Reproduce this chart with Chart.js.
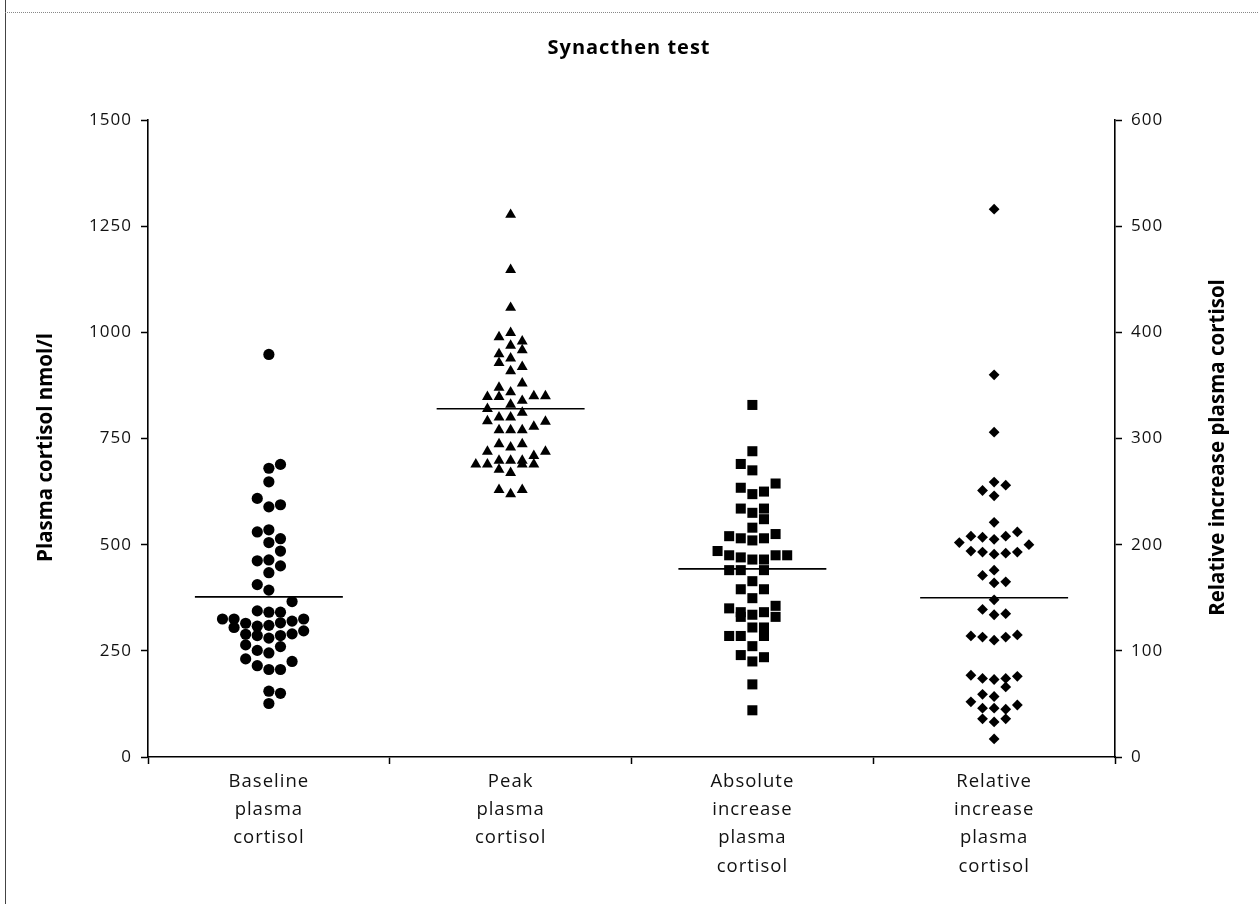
<!DOCTYPE html>
<html><head><meta charset="utf-8">
<script src="https://cdn.jsdelivr.net/npm/chart.js@4.4.1/dist/chart.umd.min.js"></script>
<style>
html,body{margin:0;padding:0;background:#fff;}
#wrap{position:relative;width:1258px;height:904px;overflow:hidden;}
#frameL{position:absolute;left:5px;top:0;width:0;height:904px;border-left:1.5px solid #444;}
#frameT{position:absolute;left:5px;top:12px;right:0;height:0;border-top:1px dotted #888;}
canvas{position:absolute;left:0;top:0;}
</style></head>
<body><div id="wrap"><div id="frameL"></div><div id="frameT"></div><canvas id="c" width="1258" height="904"></canvas></div>
<script>
// ---- data ----
const categories = [
  ['Baseline', 'plasma', 'cortisol'],
  ['Peak', 'plasma', 'cortisol'],
  ['Absolute', 'increase', 'plasma', 'cortisol'],
  ['Relative', 'increase', 'plasma', 'cortisol']
];
const leftTicks = [0, 250, 500, 750, 1000, 1250, 1500];
const rightTicks = [0, 100, 200, 300, 400, 500, 600];
const chartTitle = 'Synacthen test';
const leftAxisTitle = 'Plasma cortisol nmol/l';
const rightAxisTitle = 'Relative increase plasma cortisol';

// Baseline plasma cortisol (nmol/l) and beeswarm column of each point
const baselineValues = [948, 689, 680, 648, 609, 594, 589, 530, 535, 514, 505, 485, 462, 464, 450, 434, 406, 393, 366, 344, 341, 341, 325, 325, 305, 315, 308, 310, 316, 320, 325, 297, 290, 286, 280, 286, 289, 264, 251, 245, 260, 231, 215, 206, 206, 225, 155, 150, 126];
const baselineCols   = [0, 1, 0, 0, -1, 1, 0, -1, 0, 1, 0, 1, -1, 0, 1, 0, -1, 0, 2, -1, 0, 1, -4, -3, -3, -2, -1, 0, 1, 2, 3, 3, 2, 1, 0, -1, -2, -2, -1, 0, 1, -2, -1, 0, 1, 2, 0, 1, 0];

// Peak plasma cortisol (nmol/l)
const peakValues = [1277, 1147, 1058, 999, 989, 979, 969, 958, 949, 939, 928, 919, 909, 880, 870, 859, 848, 848, 850, 850, 839, 830, 820, 811, 800, 800, 791, 790, 778, 770, 770, 770, 737, 729, 737, 719, 719, 709, 698, 698, 698, 689, 689, 689, 689, 677, 669, 629, 619, 629];
const peakCols   = [0, 0, 0, 0, -1, 1, 0, 1, -1, 0, -1, 1, 0, 1, -1, 0, -1, -2, 2, 3, 1, 0, -2, 1, -1, 0, -2, 3, 2, -1, 0, 1, -1, 0, 1, -2, 3, 2, -1, 0, 1, -3, -2, 1, 2, -1, 0, -1, 0, 1];

// Absolute increase plasma cortisol (nmol/l)
const absoluteValues = [829, 720, 690, 675, 634, 619, 625, 644, 585, 575, 585, 560, 540, 520, 515, 510, 515, 525, 485, 475, 470, 465, 465, 475, 475, 440, 440, 440, 414, 395, 395, 374, 350, 341, 330, 335, 341, 356, 330, 305, 305, 285, 285, 285, 261, 240, 225, 235, 171, 110];
const absoluteCols   = [0, 0, -1, 0, -1, 0, 1, 2, -1, 0, 1, 1, 0, -2, -1, 0, 1, 2, -3, -2, -1, 0, 1, 2, 3, -2, -1, 1, 0, -1, 1, 0, -2, -1, -1, 0, 1, 2, 2, 0, 1, 1, -2, -1, 0, -1, 0, 1, 0, 0];

// Relative increase plasma cortisol (right axis)
const relativeValues = [516, 360, 306, 259, 256, 251, 246, 221, 208, 207, 205, 208, 212, 202, 200, 194, 193, 191, 192, 193, 176, 171, 164, 165, 148, 139, 134, 135, 114, 113, 110, 113, 115, 77, 74, 73, 74, 66, 76, 59, 57, 52, 49, 46, 46, 45, 36, 33, 36, 17];
const relativeCols   = [0, 0, 0, 0, 1, -1, 0, 0, -2, -1, 0, 1, 2, -3, 3, -2, -1, 0, 1, 2, 0, -1, 0, 1, 0, -1, 0, 1, -2, -1, 0, 1, 2, -2, -1, 0, 1, 1, 2, -1, 0, -2, 2, -1, 0, 1, -1, 0, 1, 0];

// Group means (horizontal bars)
const meanValues = [377, 820, 443, 150];

// ---- layout constants ----
const colStep = 0.048;     // horizontal spacing of swarm columns (category units)
const meanHalf = 0.306;    // half width of mean bar (category units)
const FONT = '"Open Sans", "DejaVu Sans", sans-serif';

function swarm(values, cols, catIndex) {
  return values.map((v, k) => ({ x: catIndex + 0.5 + cols[k] * colStep, y: v }));
}
function meanLine(catIndex) {
  return [
    { x: catIndex + 0.5 - meanHalf, y: meanValues[catIndex] },
    { x: catIndex + 0.5 + meanHalf, y: meanValues[catIndex] }
  ];
}

const pointBase = { type: 'scatter', backgroundColor: '#000', borderColor: '#000', pointBorderWidth: 0, pointHoverRadius: 0 };
const lineBase = { type: 'line', borderColor: '#000', borderWidth: 1.6, pointRadius: 0, fill: false };

const textPlugin = {
  id: 'textPlugin',
  beforeDraw(chart) {
    chart.ctx.letterSpacing = '1px';
  },
  afterDraw(chart) {
    const ctx = chart.ctx;
    const ca = chart.chartArea;
    const midY = (ca.top + ca.bottom) / 2 + 9;
    ctx.save();
    ctx.letterSpacing = '0px';
    ctx.font = 'bold 20.5px ' + FONT;
    ctx.fillStyle = '#000';
    ctx.textAlign = 'center';
    ctx.textBaseline = 'middle';
    // left axis title
    ctx.save();
    ctx.translate(chart.scales.y.left + 46, midY);
    ctx.rotate(-Math.PI / 2);
    ctx.fillText(leftAxisTitle, 0, 0);
    ctx.restore();
    // right axis title
    ctx.save();
    ctx.translate(chart.scales.y2.right - 40, midY);
    ctx.rotate(-Math.PI / 2);
    ctx.fillText(rightAxisTitle, 0, 0);
    ctx.restore();
    ctx.restore();
  }
};

new Chart(document.getElementById('c'), {
  data: {
    datasets: [
      Object.assign({}, pointBase, { label: 'Baseline', data: swarm(baselineValues, baselineCols, 0), pointStyle: 'circle', pointRadius: 5.6, yAxisID: 'y' }),
      Object.assign({}, pointBase, { label: 'Peak', data: swarm(peakValues, peakCols, 1), pointStyle: 'triangle', pointRadius: 6.3, yAxisID: 'y' }),
      Object.assign({}, pointBase, { label: 'Absolute', data: swarm(absoluteValues, absoluteCols, 2), pointStyle: 'rect', pointRadius: 7.1, yAxisID: 'y' }),
      Object.assign({}, pointBase, { label: 'Relative', data: swarm(relativeValues, relativeCols, 3), pointStyle: 'rectRot', pointRadius: 5.4, yAxisID: 'y2' }),
      Object.assign({}, lineBase, { label: 'm0', data: meanLine(0), yAxisID: 'y' }),
      Object.assign({}, lineBase, { label: 'm1', data: meanLine(1), yAxisID: 'y' }),
      Object.assign({}, lineBase, { label: 'm2', data: meanLine(2), yAxisID: 'y' }),
      Object.assign({}, lineBase, { label: 'm3', data: meanLine(3), yAxisID: 'y2' })
    ]
  },
  options: {
    responsive: false,
    animation: false,
    devicePixelRatio: 1,
    layout: { padding: 0 },
    plugins: {
      legend: { display: false },
      tooltip: { enabled: false },
      title: {
        display: true,
        text: chartTitle,
        color: '#000',
        font: { family: FONT, size: 20, weight: 'bold' },
        padding: { top: 36, bottom: 60 }
      }
    },
    scales: {
      x: {
        type: 'linear', position: 'bottom', min: 0, max: 4,
        afterBuildTicks: s => { s.ticks = categories.map((c, i) => ({ value: i + 0.5 })); },
        afterFit: s => { s.height = 147; },
        ticks: {
          callback: (v, i) => categories[i],
          color: '#111', font: { family: FONT, size: 18.5, lineHeight: 1.54 },
          padding: 3, autoSkip: false, maxRotation: 0, minRotation: 0
        },
        grid: { display: true, drawOnChartArea: false, drawTicks: true, tickLength: 7, tickColor: '#000', tickWidth: 1.5, offset: true },
        border: { display: true, color: '#000', width: 1.6 }
      },
      y: {
        type: 'linear', position: 'left', min: 0, max: 1500,
        afterBuildTicks: s => { s.ticks = leftTicks.map(v => ({ value: v })); },
        afterFit: s => { s.width = 148; },
        ticks: { callback: v => String(v), color: '#111', font: { family: FONT, size: 17 }, padding: 9 },
        grid: { drawOnChartArea: false, drawTicks: true, tickLength: 7, tickColor: '#000', tickWidth: 1.5 },
        border: { display: true, color: '#000', width: 1.6 }
      },
      y2: {
        type: 'linear', position: 'right', min: 0, max: 600,
        afterBuildTicks: s => { s.ticks = rightTicks.map(v => ({ value: v })); },
        afterFit: s => { s.width = 143; },
        ticks: { callback: v => String(v), color: '#111', font: { family: FONT, size: 17 }, padding: 9 },
        grid: { drawOnChartArea: false, drawTicks: true, tickLength: 7, tickColor: '#000', tickWidth: 1.5 },
        border: { display: true, color: '#000', width: 1.6 }
      }
    }
  },
  plugins: [textPlugin]
});
</script>
</body></html>
